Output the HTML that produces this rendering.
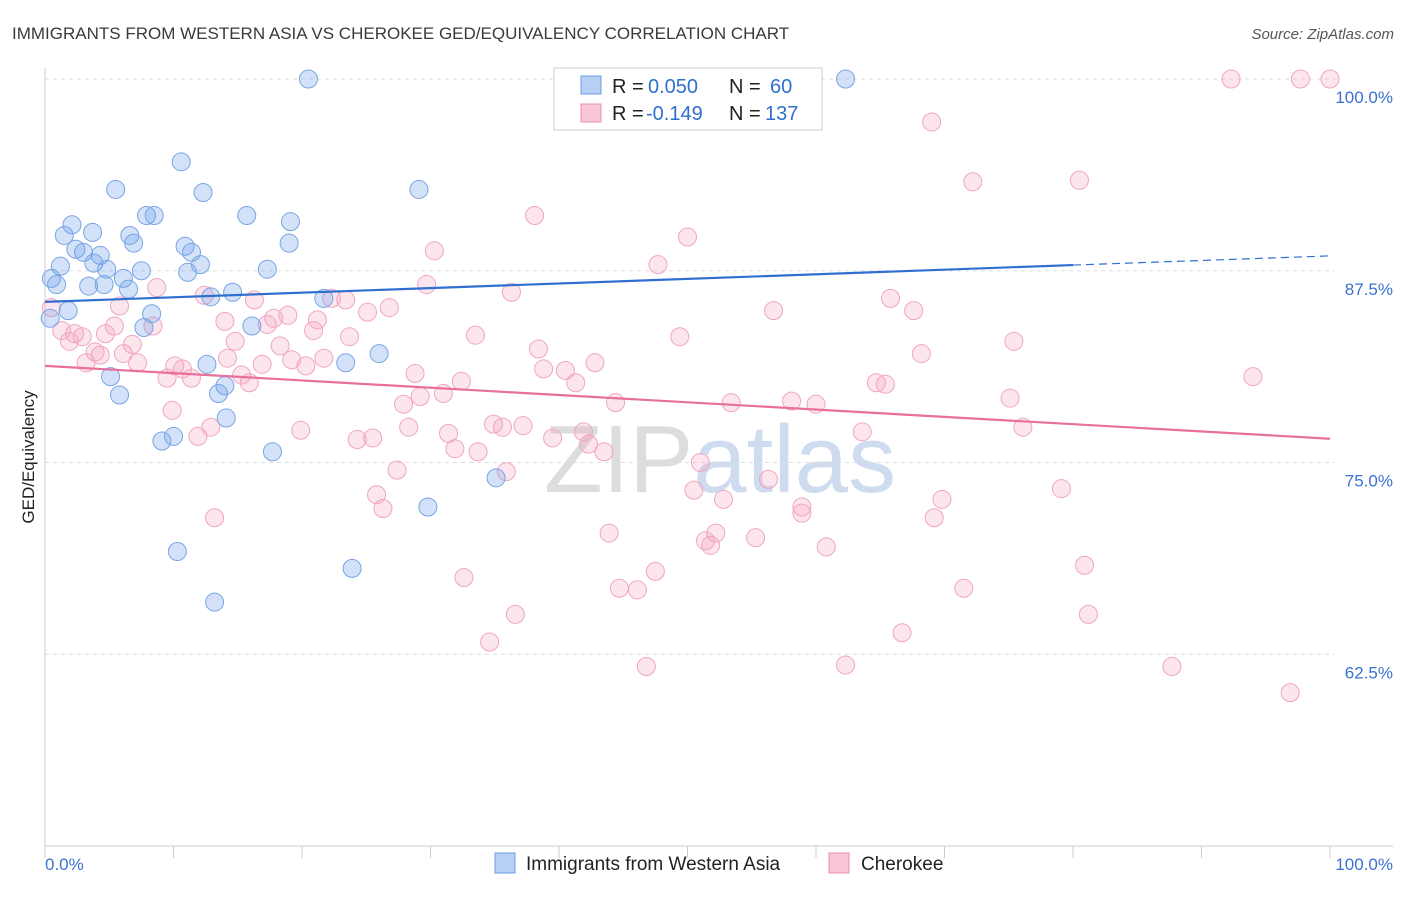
<!DOCTYPE html>
<html><head><meta charset="utf-8">
<style>
body{margin:0;background:#fff;font-family:"Liberation Sans",sans-serif;}
svg text{font-family:"Liberation Sans",sans-serif;}
</style></head>
<body>
<svg id="chart" width="1406" height="892" xmlns="http://www.w3.org/2000/svg">
<text x="12" y="39" font-size="17" fill="#3a3a3a">IMMIGRANTS FROM WESTERN ASIA VS CHEROKEE GED/EQUIVALENCY CORRELATION CHART</text>
<text x="1394" y="39" font-size="15" fill="#555" text-anchor="end" font-style="italic">Source: ZipAtlas.com</text>
<text x="720" y="492" font-size="96" fill="#ddd" text-anchor="middle" font-family="Liberation Serif">ZIP<tspan fill="#cfdcf0" font-family="Liberation Sans">atlas</tspan></text>
<g id="grid"></g>
<g id="axes"></g>
<g id="marks"></g>
<text transform="translate(34,457) rotate(-90)" font-size="17" fill="#222" text-anchor="middle">GED/Equivalency</text>
<g>
<rect x="554" y="68" width="268" height="62" fill="#fff" stroke="#ccc"/>
<rect x="581" y="76" width="20" height="18" fill="#b8d0f4" stroke="#6a9be0"/>
<rect x="581" y="104" width="20" height="18" fill="#f8c6d6" stroke="#e890b0"/>
<text y="93" font-size="20" fill="#222"><tspan x="612">R =</tspan><tspan x="648" fill="#2f6fd0">0.050</tspan><tspan x="729">N =</tspan><tspan x="770" fill="#2f6fd0">60</tspan></text>
<text y="120" font-size="20" fill="#222"><tspan x="612">R =</tspan><tspan x="646" fill="#2f6fd0">-0.149</tspan><tspan x="729">N =</tspan><tspan x="765" fill="#2f6fd0">137</tspan></text>
</g>
<g>
<rect x="495" y="853" width="20" height="20" fill="#b8d0f4" stroke="#6a9be0"/>
<text x="526" y="870" font-size="19" fill="#222">Immigrants from Western Asia</text>
<rect x="829" y="853" width="20" height="20" fill="#f8c6d6" stroke="#e890b0"/>
<text x="861" y="870" font-size="19" fill="#222">Cherokee</text>
</g>
</svg>
<script>
const yTicks=[100,87.5,75,62.5];
const yTickLabels=["100.0%","87.5%","75.0%","62.5%"];
const xTickLabels=["0.0%","100.0%"];
const blueX=[20.5,62.3,10.6,5.5,12.3,29.1,7.9,8.5,15.7,19.1,2.1,1.5,3.7,6.6,6.9,10.9,19.0,2.4,3.0,4.3,11.4,1.2,3.8,12.1,4.8,7.5,11.1,17.3,0.5,0.9,3.4,4.6,6.1,6.5,14.6,12.9,21.7,1.8,0.4,8.3,7.7,16.1,26.0,23.4,12.6,5.1,14.0,13.5,5.8,14.1,10.0,9.1,17.7,35.1,29.8,10.3,23.9,13.2];
const blueY=[100,100,94.6,92.8,92.6,92.8,91.1,91.1,91.1,90.7,90.5,89.8,90.0,89.8,89.3,89.1,89.3,88.9,88.7,88.5,88.7,87.8,88.0,87.9,87.6,87.5,87.4,87.6,87.0,86.6,86.5,86.6,87.0,86.3,86.1,85.8,85.7,84.9,84.4,84.7,83.8,83.9,82.1,81.5,81.4,80.6,80.0,79.5,79.4,77.9,76.7,76.4,75.7,74.0,72.1,69.2,68.1,65.9];
const pinkX=[53.7,92.3,97.7,100,69.0,72.2,80.5,38.1,50.0,30.3,47.7,8.7,29.7,36.3,12.4,16.3,22.3,23.4,26.8,5.8,65.8,56.7,67.6,0.5,18.9,17.8,25.1,21.2,14.0,17.3,5.4,8.4,1.3,2.3,2.9,4.7,20.9,23.7,33.5,49.4,1.9,14.8,6.8,18.3,75.4,38.4,3.9,4.3,6.1,68.2,14.2,21.7,3.2,7.2,19.2,42.8,16.9,20.3,10.1,10.7,38.8,40.5,28.8,15.3,9.5,11.4,15.9,32.4,41.3,64.7,65.4,94.0,29.2,31.0,75.1,27.9,44.4,53.4,58.1,60.0,9.9,34.9,35.6,37.2,28.3,19.9,12.9,31.4,76.1,63.6,11.9,24.3,25.5,39.5,41.9,42.3,31.9,33.7,43.5,51.0,27.4,35.9,56.3,79.1,50.5,25.8,52.8,69.8,26.3,58.9,58.9,13.2,69.2,43.9,52.2,51.4,51.8,55.3,60.8,80.9,47.5,32.6,44.7,46.1,71.5,36.6,81.2,66.7,34.6,46.8,62.3,87.7,96.9];
const pinkY=[100,100,100,100,97.2,93.3,93.4,91.1,89.7,88.8,87.9,86.4,86.6,86.1,85.9,85.6,85.7,85.6,85.1,85.2,85.7,84.9,84.9,85.1,84.6,84.4,84.8,84.3,84.2,84.0,83.9,83.9,83.6,83.4,83.2,83.4,83.6,83.2,83.3,83.2,82.9,82.9,82.7,82.6,82.9,82.4,82.2,82.0,82.1,82.1,81.8,81.8,81.5,81.5,81.7,81.5,81.4,81.3,81.3,81.1,81.1,81.0,80.8,80.7,80.5,80.5,80.2,80.3,80.2,80.2,80.1,80.6,79.3,79.5,79.2,78.8,78.9,78.9,79.0,78.8,78.4,77.5,77.3,77.4,77.3,77.1,77.3,76.9,77.3,77.0,76.7,76.5,76.6,76.6,77.0,76.2,75.9,75.7,75.7,75.0,74.5,74.4,73.9,73.3,73.2,72.9,72.6,72.6,72.0,72.1,71.7,71.4,71.4,70.4,70.4,69.9,69.6,70.1,69.5,68.3,67.9,67.5,66.8,66.7,66.8,65.1,65.1,63.9,63.3,61.7,61.8,61.7,60.0];
const blueTrend=[85.47,88.47];
const pinkTrend=[81.3,76.55];
const X0=45,X1=1330,YTOP=79,YBOT=846;
function sx(v){return X0+(X1-X0)*v/100;}
function sy(v){return YTOP+(100-v)/50*(YBOT-YTOP);}
const NS="http://www.w3.org/2000/svg";
function mk(tag,attrs,parent){const e=document.createElementNS(NS,tag);for(const k in attrs)e.setAttribute(k,attrs[k]);parent.appendChild(e);return e;}
const grid=document.getElementById('grid'),axes=document.getElementById('axes'),marks=document.getElementById('marks');
yTicks.forEach((t,i)=>{
 const l=mk('line',{x1:X0,x2:X1+5,y1:sy(t),y2:sy(t),stroke:'#ddd','stroke-dasharray':'4,4'},grid);
 
 
 const tx=mk('text',{x:1393,y:sy(t)+24,'font-size':17,fill:'#3a72d0','text-anchor':'end'},axes);
 tx.textContent=yTickLabels[i];
 
 
});
const al=mk('line',{x1:X0,x2:X0,y1:68,y2:YBOT,stroke:'#ccc'},axes);


const bl=mk('line',{x1:X0,x2:1393,y1:YBOT,y2:YBOT,stroke:'#ccc'},axes);


for(let i=0;i<=10;i++){
 const t=mk('line',{x1:sx(i*10),x2:sx(i*10),y1:YBOT,y2:YBOT+12,stroke:'#ccc'},axes);
 
 
}
[[0,'start',45],[1,'end',1393]].forEach(([i,a,x])=>{
 const t=mk('text',{x:x,y:870,'font-size':17,fill:'#3a72d0','text-anchor':a},axes);
 t.textContent=xTickLabels[i];
 
 
});
pinkX.forEach((v,i)=>{
 const c=mk('circle',{cx:sx(v),cy:sy(pinkY[i]),r:9,fill:'rgba(244,160,190,0.28)',stroke:'#f0a6c0','stroke-width':1},marks);
 
 
});
blueX.forEach((v,i)=>{
 const c=mk('circle',{cx:sx(v),cy:sy(blueY[i]),r:9,fill:'rgba(110,160,235,0.3)',stroke:'#78a5e4','stroke-width':1},marks);
 
 
});
function at(tr,x){return tr[0]+(tr[1]-tr[0])*x/100;}
const b1=mk('line',{x1:sx(0),y1:sy(at(blueTrend,0)),x2:sx(80),y2:sy(at(blueTrend,80)),stroke:'#2f6fd0','stroke-width':2.2},marks);


const b2=mk('line',{x1:sx(80),y1:sy(at(blueTrend,80)),x2:sx(100),y2:sy(at(blueTrend,100)),stroke:'#2f6fd0','stroke-width':1.2,'stroke-dasharray':'8,5'},marks);


const p1=mk('line',{x1:sx(0),y1:sy(at(pinkTrend,0)),x2:sx(100),y2:sy(at(pinkTrend,100)),stroke:'#e8709a','stroke-width':2.2},marks);


</script>
</body></html>
